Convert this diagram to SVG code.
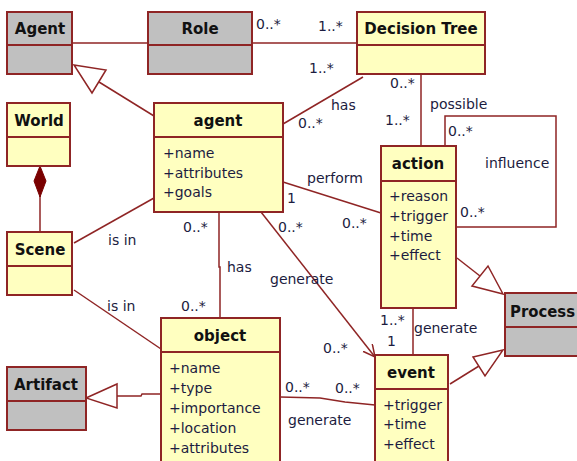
<svg xmlns="http://www.w3.org/2000/svg" width="577" height="461" viewBox="0 0 577 461">
<defs>
<style>
.box{stroke:#8f2525;stroke-width:2;}
.y{fill:#ffffc0;}
.g{fill:#c0c0c0;}
.ln{stroke:#8f2525;stroke-width:1.5;fill:none;}
.tri{stroke:#8f2525;stroke-width:1.5;fill:#ffffff;}
.t{font-family:"DejaVu Sans",sans-serif;font-size:14px;fill:#1c1c40;}
.h{font-family:"DejaVu Sans",sans-serif;font-size:15px;font-weight:bold;fill:#111111;text-anchor:middle;}
</style>
<marker id="open" markerWidth="14" markerHeight="14" refX="12" refY="6" orient="auto" markerUnits="userSpaceOnUse">
<path d="M0,0 L12,6 L0,12" fill="none" stroke="#8f2525" stroke-width="1.5"/>
</marker>
</defs>
<rect width="577" height="461" fill="#ffffff"/>

<g id="connectors">
<line class="ln" x1="72" y1="43" x2="148" y2="43"/>
<line class="ln" x1="252" y1="43" x2="357" y2="43"/>
<line class="ln" x1="99" y1="82" x2="154" y2="116"/>
<polygon class="tri" points="74,65 106,70 92,93"/>
<line class="ln" x1="363" y1="77" x2="283" y2="124" stroke-width="1.3"/>
<line class="ln" x1="421" y1="74" x2="421" y2="146"/>
<polyline class="ln" points="445,146 445,116 556,116 556,227 457,227"/>
<line class="ln" x1="283" y1="182" x2="381" y2="213"/>
<line class="ln" x1="457" y1="258" x2="480" y2="276"/>
<polygon class="tri" points="503,294 472,286 488,266"/>
<line class="ln" x1="450" y1="384" x2="479" y2="366"/>
<polygon class="tri" points="503,350 473,357 485,376"/>
<line class="ln" x1="413" y1="308" x2="413" y2="355"/>
<line class="ln" x1="261" y1="212" x2="375" y2="357" marker-end="url(#open)"/>
<polyline class="ln" points="219,212 219,267 220,267 220,318"/>
<line class="ln" x1="74" y1="243" x2="154" y2="198"/>
<line class="ln" x1="74" y1="290" x2="161" y2="349"/>
<polyline class="ln" points="161,394 142,394 141,396 117,396"/>
<polygon class="tri" points="86,398 117,384 117,408"/>
<polyline class="ln" points="280,397 320,398 345,402 375,405"/>
<line class="ln" x1="40" y1="196" x2="40" y2="232"/>
<polygon points="40,166 46,181 40,197 34,181" fill="#7a0000" stroke="#7a0000" stroke-width="1"/>
</g>

<g id="labels">
<text class="t" x="256" y="29">0..*</text>
<text class="t" x="318" y="31">1..*</text>
<text class="t" x="309" y="73">1..*</text>
<text class="t" x="390" y="88">0..*</text>
<text class="t" x="331" y="110">has</text>
<text class="t" x="430" y="109">possible</text>
<text class="t" x="298" y="128">0..*</text>
<text class="t" x="385" y="125">1..*</text>
<text class="t" x="448" y="136">0..*</text>
<text class="t" x="485" y="168">influence</text>
<text class="t" x="460" y="217">0..*</text>
<text class="t" x="307" y="183">perform</text>
<text class="t" x="287" y="203">1</text>
<text class="t" x="342" y="228">0..*</text>
<text class="t" x="278" y="232">0..*</text>
<text class="t" x="270" y="284">generate</text>
<text class="t" x="183" y="232">0..*</text>
<text class="t" x="227" y="272">has</text>
<text class="t" x="108" y="245">is in</text>
<text class="t" x="107" y="311">is in</text>
<text class="t" x="181" y="311">0..*</text>
<text class="t" x="380" y="325">1..*</text>
<text class="t" x="414" y="333">generate</text>
<text class="t" x="387" y="346">1</text>
<text class="t" x="323" y="353">0..*</text>
<text class="t" x="285" y="392">0..*</text>
<text class="t" x="335" y="393">0..*</text>
<text class="t" x="288" y="425">generate</text>
</g>

<g id="Agent">
<rect class="box g" x="7" y="12" width="65" height="62"/>
<line class="box" x1="7" y1="45" x2="72" y2="45"/>
<text class="h" x="40" y="34">Agent</text>
</g>
<g id="Role">
<rect class="box g" x="148" y="12" width="104" height="62"/>
<line class="box" x1="148" y1="45" x2="252" y2="45"/>
<text class="h" x="200" y="34">Role</text>
</g>
<g id="DecisionTree">
<rect class="box y" x="357" y="12" width="128" height="62"/>
<line class="box" x1="357" y1="45" x2="485" y2="45"/>
<text class="h" x="421" y="34">Decision Tree</text>
</g>
<g id="World">
<rect class="box y" x="7" y="103" width="63" height="63"/>
<line class="box" x1="7" y1="137" x2="70" y2="137"/>
<text class="h" x="39" y="126">World</text>
</g>
<g id="agent">
<rect class="box y" x="154" y="103" width="129" height="109"/>
<line class="box" x1="154" y1="137" x2="283" y2="137"/>
<text class="h" x="218" y="126">agent</text>
<text class="t" x="163" y="158">+name</text>
<text class="t" x="163" y="178">+attributes</text>
<text class="t" x="163" y="197">+goals</text>
</g>
<g id="Scene">
<rect class="box y" x="7" y="232" width="65" height="63"/>
<line class="box" x1="7" y1="266" x2="72" y2="266"/>
<text class="h" x="40" y="255">Scene</text>
</g>
<g id="action">
<rect class="box y" x="381" y="146" width="75" height="162"/>
<line class="box" x1="381" y1="181" x2="456" y2="181"/>
<text class="h" x="418" y="169">action</text>
<text class="t" x="389" y="201">+reason</text>
<text class="t" x="389" y="221">+trigger</text>
<text class="t" x="389" y="241">+time</text>
<text class="t" x="389" y="260">+effect</text>
</g>
<g id="Process">
<rect class="box g" x="505" y="293" width="82" height="63"/>
<line class="box" x1="505" y1="327" x2="587" y2="327"/>
<text class="h" x="510" y="317" style="text-anchor:start" textLength="65" lengthAdjust="spacingAndGlyphs">Process</text>
</g>
<g id="object">
<rect class="box y" x="161" y="318" width="119" height="150"/>
<line class="box" x1="161" y1="352" x2="280" y2="352"/>
<text class="h" x="220" y="341">object</text>
<text class="t" x="169" y="373">+name</text>
<text class="t" x="169" y="393">+type</text>
<text class="t" x="169" y="413">+importance</text>
<text class="t" x="169" y="433">+location</text>
<text class="t" x="169" y="453">+attributes</text>
</g>
<g id="Artifact">
<rect class="box g" x="7" y="367" width="79" height="63"/>
<line class="box" x1="7" y1="401" x2="86" y2="401"/>
<text class="h" x="46" y="390">Artifact</text>
</g>
<g id="event">
<rect class="box y" x="375" y="355" width="73" height="113"/>
<line class="box" x1="375" y1="389" x2="448" y2="389"/>
<text class="h" x="411" y="378">event</text>
<text class="t" x="383" y="410">+trigger</text>
<text class="t" x="383" y="429">+time</text>
<text class="t" x="383" y="449">+effect</text>
</g>
</svg>
